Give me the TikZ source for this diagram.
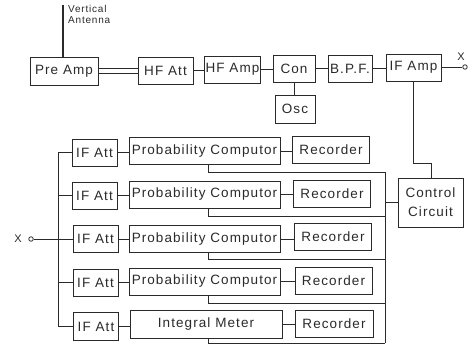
\documentclass[tikz,border=0pt]{standalone}
\usepackage{fontspec}
\setmainfont{Liberation Sans}
\newfontfamily\hand[LetterSpace=8]{Liberation Sans}
\definecolor{ink}{HTML}{2A2A2A}
\begin{document}
\begin{tikzpicture}[x=1pt,y=-1pt,
  box/.style={draw=ink, line width=1pt, minimum height=27pt, inner sep=1pt,
    font=\hand\fontsize{13.5}{15}\selectfont, text=ink},
  wire/.style={draw=ink, line width=0.9pt},
  lbl/.style={text=ink, inner sep=0pt, font=\hand\fontsize{10}{11.5}\selectfont},
  term/.style={circle, draw=ink, line width=0.8pt, inner sep=0pt, minimum size=4.5pt}
]
\useasboundingbox (0,0) rectangle (472,346);

% top chain
\node[box, minimum width=68pt, minimum height=28pt] (pre) at (64,71) {Pre Amp};
\node[box, minimum width=55pt] (hfatt) at (165.5,70.5) {HF Att};
\node[box, minimum width=55pt] (hfamp) at (232.5,69.5) {HF Amp};
\node[box, minimum width=42pt] (con) at (294,68.5) {Con};
\node[box, minimum width=40pt, minimum height=28pt] (osc) at (295,109) {Osc};
\node[box, minimum width=44pt] (bpf) at (350,68.5) {B.P.F.};
\node[box, minimum width=55pt] (ifamp) at (413.5,67.5) {IF Amp};
\node[term] (out) at (465,67) {};
\node[lbl, font=\hand\fontsize{11}{12}\selectfont] (xo) at (461,57) {X};

\node[box, minimum width=65pt, minimum height=49pt, align=center,
  font=\hand\fontsize{13.5}{19}\selectfont] (ctl) at (430.5,202.5) {Control\\Circuit};

% antenna
\coordinate (ant) at (63,5);
\draw[draw=ink, line width=2pt] (ant) -- (ant |- pre.north);
\node[lbl, anchor=north west, align=left] (antlbl) at (68,5) {Vertical\\Antenna};

\draw[wire, double, double distance=4pt] (pre.east) -- (pre.east -| hfatt.west);
\draw[wire] (hfatt.east) -- (hfatt.east -| hfamp.west);
\draw[wire] (hfamp.east) -- (hfamp.east -| con.west);
\draw[wire] (con.east) -- (con.east -| bpf.west);
\draw[wire] (bpf.east) -- (bpf.east -| ifamp.west);
\draw[wire] (ifamp.east) -- (ifamp.east -| out.west);
\draw[wire] (con.south) -- (con.south |- osc.north);

\coordinate (k1) at (431,163);
\draw[wire] (ifamp.south) |- (k1) -- (k1 |- ctl.north);

% rows
\node[box, minimum width=45pt] (ia1) at (94.5,152.5) {IF Att};
\node[box, minimum width=151pt] (pc1) at (204.5,151) {Probability Computor};
\node[box, minimum width=77pt] (rc1) at (331,150) {Recorder};

\node[box, minimum width=45pt] (ia2) at (94.5,195.5) {IF Att};
\node[box, minimum width=151pt] (pc2) at (204.5,194.5) {Probability Computor};
\node[box, minimum width=77pt] (rc2) at (332,193.5) {Recorder};

\node[box, minimum width=45pt] (ia3) at (95.5,239) {IF Att};
\node[box, minimum width=151pt] (pc3) at (204.5,239) {Probability Computor};
\node[box, minimum width=77pt] (rc3) at (333,237) {Recorder};

\node[box, minimum width=45pt] (ia4) at (95.5,282.5) {IF Att};
\node[box, minimum width=151pt] (pc4) at (204.5,281.5) {Probability Computor};
\node[box, minimum width=77pt] (rc4) at (333.5,280.5) {Recorder};

\node[box, minimum width=45pt, minimum height=28pt] (ia5) at (96,326.5) {IF Att};
\node[box, minimum width=152pt, minimum height=28pt] (pc5) at (206,324) {Integral Meter};
\node[box, minimum width=78pt] (rc5) at (334,323.5) {Recorder};

\foreach \i in {1,...,5}{
  \draw[wire] (ia\i.east) -- (ia\i.east -| pc\i.west);
  \draw[wire] (pc\i.east) -- (pc\i.east -| rc\i.west);
}

% left distribution bus
\coordinate (lbx) at (58,0);
\draw[wire] (ia1.west) -| (ia5.west -| lbx) -- (ia5.west);
\draw[wire] (ia2.west) -- (ia2.west -| lbx);
\draw[wire] (ia4.west) -- (ia4.west -| lbx);
\node[term] (inp) at (31,239) {};
\node[lbl, font=\hand\fontsize{11}{12}\selectfont] (xi) at (18,239) {X};
\draw[wire] (inp.east) -- (ia3.west);

% control bus
\coordinate (tap) at (208,0);
\coordinate (b1) at (385,172);
\coordinate (b2) at (385,216);
\coordinate (b3) at (385,259);
\coordinate (b4) at (385,303);
\coordinate (b5) at (385,343);
\foreach \i in {1,...,5}{
  \draw[wire] (pc\i.south -| tap) |- (b\i);
}
\draw[wire] (b1) -- (b5);
\draw[wire] (ctl.west) -- (ctl.west -| b1);
\end{tikzpicture}
\end{document}
